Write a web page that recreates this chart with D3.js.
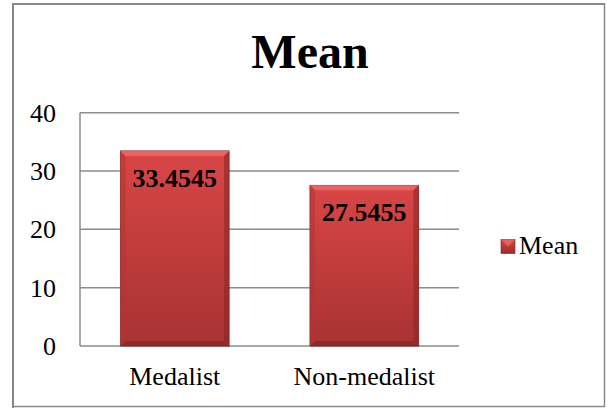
<!DOCTYPE html>
<html><head><meta charset="utf-8">
<script src="https://cdn.jsdelivr.net/npm/d3@7/dist/d3.min.js"></script>
<style>body{margin:0;background:#fff}svg{display:block}</style>
</head><body>
<script>
const categories = ["Medalist", "Non-medalist"];
const meanValues = [33.4545, 27.5455];
const valueLabels = ["33.4545", "27.5455"];
const yTicks = [0, 10, 20, 30, 40];
const seriesName = "Mean";
const chartTitle = "Mean";

const W = 607, H = 408;
const svg = d3.select("body").append("svg").attr("width", W).attr("height", H);
const font = "Liberation Serif";

const defs = svg.append("defs");
const g1 = defs.append("linearGradient").attr("id", "barg").attr("x1", 0).attr("y1", 0).attr("x2", 0).attr("y2", 1);
g1.append("stop").attr("offset", "0%").attr("stop-color", "#d94646");
g1.append("stop").attr("offset", "100%").attr("stop-color", "#a83232");
const g2 = defs.append("linearGradient").attr("id", "legg").attr("x1", 0).attr("y1", 0).attr("x2", 0).attr("y2", 1);
g2.append("stop").attr("offset", "0%").attr("stop-color", "#d84747");
g2.append("stop").attr("offset", "100%").attr("stop-color", "#9a2c2c");

// outer border
svg.append("rect").attr("x", 13).attr("y", 4).attr("width", 591.5).attr("height", 402.5)
  .attr("fill", "#fff").attr("stroke", "#8a8a8a").attr("stroke-width", 1.5);
svg.append("line").attr("x1", 13).attr("x2", 13).attr("y1", 3).attr("y2", 408).attr("stroke", "#858585").attr("stroke-width", 2);
svg.append("line").attr("x1", 12).attr("x2", 605).attr("y1", 4).attr("y2", 4).attr("stroke", "#8a8a8a").attr("stroke-width", 2);

const x = d3.scaleBand().domain(categories).range([80, 459]).paddingInner(0.427).paddingOuter(0.2135);
const y = d3.scaleLinear().domain([0, 40]).range([346, 112.7]);

// gridlines
svg.append("g").selectAll("line").data(yTicks).join("line")
  .attr("x1", 80).attr("x2", 459)
  .attr("y1", d => y(d)).attr("y2", d => y(d))
  .attr("stroke", "#8c8c8c").attr("stroke-width", 1.5);
// y axis line
svg.append("line").attr("x1", 80).attr("x2", 80).attr("y1", y(40)).attr("y2", y(0))
  .attr("stroke", "#8c8c8c").attr("stroke-width", 1.5);

// y tick labels
svg.append("g").selectAll("text").data(yTicks).join("text")
  .attr("x", 56).attr("y", d => y(d) + 9)
  .attr("text-anchor", "end").attr("font-family", font).attr("font-size", 26).attr("fill", "#000")
  .text(d => d);

// bars
const data = categories.map((c, i) => ({c, v: meanValues[i], l: valueLabels[i]}));
const bars = svg.append("g").selectAll("g").data(data).join("g");
bars.append("rect")
  .attr("x", d => x(d.c) + 1).attr("y", d => y(d.v) + 1)
  .attr("width", x.bandwidth()).attr("height", d => y(0) - y(d.v))
  .attr("fill", "#000").attr("opacity", 0.15);
bars.append("rect")
  .attr("x", d => x(d.c)).attr("y", d => y(d.v))
  .attr("width", x.bandwidth()).attr("height", d => y(0) - y(d.v))
  .attr("fill", "url(#barg)").attr("stroke", "#8a2a2a").attr("stroke-width", 0.8);
const bv = 5;
// top bevel (light)
bars.append("path").attr("d", d => {
  const x0 = x(d.c), x1 = x0 + x.bandwidth(), t = y(d.v);
  return `M${x0},${t}L${x1},${t}L${x1 - bv},${t + bv}L${x0 + bv},${t + bv}Z`;
}).attr("fill", "#ef6a6a").attr("opacity", 0.85);
// left bevel
bars.append("path").attr("d", d => {
  const x0 = x(d.c), t = y(d.v), b = y(0);
  return `M${x0},${t}L${x0 + bv},${t + bv}L${x0 + bv},${b - bv}L${x0},${b}Z`;
}).attr("fill", "#b23535").attr("opacity", 0.6);
// right bevel
bars.append("path").attr("d", d => {
  const x1 = x(d.c) + x.bandwidth(), t = y(d.v), b = y(0);
  return `M${x1},${t}L${x1 - bv},${t + bv}L${x1 - bv},${b - bv}L${x1},${b}Z`;
}).attr("fill", "#8e2626").attr("opacity", 0.6);
// bottom bevel
bars.append("path").attr("d", d => {
  const x0 = x(d.c), x1 = x0 + x.bandwidth(), b = y(0);
  return `M${x0},${b}L${x1},${b}L${x1 - bv},${b - bv}L${x0 + bv},${b - bv}Z`;
}).attr("fill", "#7e2424").attr("opacity", 0.6);

// value labels
bars.append("text")
  .attr("x", d => x(d.c) + x.bandwidth() / 2).attr("y", d => y(d.v) + 36)
  .attr("text-anchor", "middle").attr("font-family", font).attr("font-weight", "bold")
  .attr("font-size", 26).attr("fill", "#000").text(d => d.l);

// x labels
svg.append("g").selectAll("text").data(categories).join("text")
  .attr("x", d => x(d) + x.bandwidth() / 2).attr("y", 385)
  .attr("text-anchor", "middle").attr("font-family", font).attr("font-size", 26).attr("fill", "#000")
  .text(d => d);

// title
svg.append("text").attr("x", 310).attr("y", 68).attr("text-anchor", "middle")
  .attr("font-family", font).attr("font-weight", "bold").attr("font-size", 48).attr("fill", "#000")
  .text(chartTitle);

// legend
const lg = svg.append("g");
lg.append("rect").attr("x", 501).attr("y", 239.5).attr("width", 14).attr("height", 14)
  .attr("fill", "url(#legg)").attr("stroke", "#7a2222").attr("stroke-width", 0.6);
lg.append("path").attr("d", "M501,239.5L515,239.5L508,246.5Z").attr("fill", "#ef6a6a").attr("opacity", 0.8);
lg.append("text").attr("x", 519).attr("y", 254).attr("font-family", font).attr("font-size", 26)
  .attr("fill", "#000").text(seriesName);
</script>
</body></html>
